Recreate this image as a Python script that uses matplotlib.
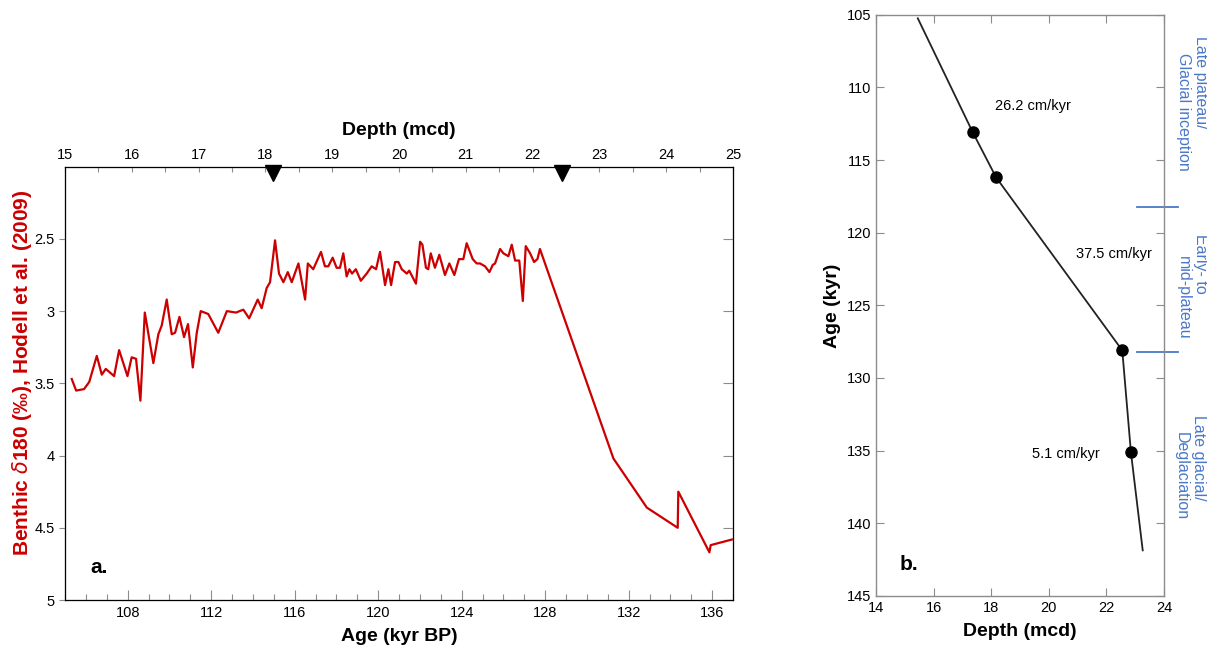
import matplotlib.pyplot as plt
from matplotlib.ticker import MultipleLocator
import matplotlib.transforms as mtransforms

plt.rcParams['font.family'] = ['Liberation Sans', 'DejaVu Sans']

# Benthic d18O record (Hodell et al. 2009) against age
age = [105.32, 105.53, 105.91, 106.16, 106.52, 106.76, 106.95, 107.35, 107.59, 107.99,
       108.19, 108.40, 108.61, 108.82, 109.23, 109.47, 109.63, 109.87, 110.11, 110.27,
       110.48, 110.70, 110.89, 111.12, 111.31, 111.50, 111.86, 112.34, 112.75, 113.19,
       113.54, 113.82, 114.23, 114.42, 114.66, 114.82, 115.06, 115.25, 115.46, 115.67,
       115.86, 116.18, 116.50, 116.63, 116.89, 117.26, 117.45, 117.61, 117.82, 118.01,
       118.17, 118.33, 118.49, 118.62, 118.75, 118.93, 119.17, 119.45, 119.69, 119.90,
       120.09, 120.33, 120.49, 120.62, 120.81, 120.97, 121.13, 121.37, 121.49, 121.81,
       122.01, 122.12, 122.29, 122.40, 122.52, 122.72, 122.93, 123.20, 123.41, 123.65,
       123.87, 124.08, 124.24, 124.53, 124.72, 124.88, 125.12, 125.33, 125.49, 125.60,
       125.84, 126.00, 126.24, 126.40, 126.56, 126.76, 126.93, 127.07, 127.28, 127.47,
       127.63, 127.75, 131.27, 132.87, 134.35, 134.38, 135.87, 135.93, 136.98]
d18o = [3.47, 3.55, 3.54, 3.49, 3.31, 3.44, 3.40, 3.45, 3.27, 3.45,
        3.32, 3.33, 3.62, 3.01, 3.36, 3.16, 3.10, 2.92, 3.16, 3.15,
        3.04, 3.18, 3.09, 3.39, 3.15, 3.00, 3.02, 3.15, 3.00, 3.01,
        2.99, 3.05, 2.92, 2.98, 2.84, 2.80, 2.51, 2.74, 2.80, 2.73,
        2.80, 2.67, 2.92, 2.67, 2.71, 2.59, 2.69, 2.69, 2.63, 2.70,
        2.70, 2.60, 2.76, 2.71, 2.74, 2.71, 2.79, 2.74, 2.69, 2.71,
        2.59, 2.82, 2.71, 2.82, 2.66, 2.66, 2.71, 2.74, 2.72, 2.81,
        2.52, 2.54, 2.70, 2.71, 2.60, 2.70, 2.61, 2.75, 2.67, 2.75,
        2.64, 2.64, 2.53, 2.64, 2.67, 2.67, 2.69, 2.73, 2.68, 2.67,
        2.57, 2.60, 2.62, 2.54, 2.65, 2.65, 2.93, 2.55, 2.60, 2.66,
        2.64, 2.57, 4.02, 4.36, 4.50, 4.25, 4.67, 4.62, 4.58]

# tie points marked on the depth axis
tri_depth = [18.12, 22.44]

# age model (depth vs age)
model_depth = [15.45, 17.36, 18.17, 22.55, 22.85, 23.26]
model_age = [105.25, 113.1, 116.2, 128.1, 135.1, 141.86]
tie_depth = [17.36, 18.17, 22.55, 22.85]
tie_age = [113.1, 116.2, 128.1, 135.1]
rate_labels = ['26.2 cm/kyr', '37.5 cm/kyr', '5.1 cm/kyr']
rate_pos = [(19.45, 111.3), (22.26, 121.5), (20.6, 135.2)]

# climate phase boundaries and names (one entry per text line)
phase_bounds = [118.2, 128.2]
phase_lines = ['Late plateau/', 'Glacial inception', 'Early- to', 'mid-plateau',
               'Late glacial/', 'Deglaciation']
phase_line_x = [25.28, 24.66, 25.28, 24.66, 25.21, 24.59]
phase_line_y = [109.63, 111.70, 122.16, 124.50, 135.51, 136.75]

red = '#cc0000'
blue = '#4a78c8'
spine_c = '#8c8c8c'
fs = 10.5

fig = plt.figure(figsize=(12.07, 6.5), dpi=100)

# ---- panel a ----
ax = fig.add_axes([0.0539, 0.0769, 0.5534, 0.6667])
ax.plot(age, d18o, color=red, lw=1.6)
ax.set_xlim(105, 137)
ax.set_ylim(5, 2)
ax.set_xticks([108, 112, 116, 120, 124, 128, 132, 136])
ax.xaxis.set_minor_locator(MultipleLocator(1))
ax.set_yticks([2.5, 3, 3.5, 4, 4.5, 5])
ax.set_yticklabels(['2.5', '3', '3.5', '4', '4.5', '5'])
ax.tick_params(axis='x', which='major', direction='in', length=7, width=0.8, colors=spine_c,
               labelcolor='black', labelsize=fs, pad=4)
ax.tick_params(axis='x', which='minor', direction='in', length=4, width=0.8, colors=spine_c)
ax.tick_params(axis='y', which='major', direction='out', length=4, width=0.8, colors=spine_c,
               labelcolor='black', labelsize=fs, left=True, right=False)
for s in ax.spines.values():
    s.set_color(spine_c)
    s.set_linewidth(1.0)
# right side ticks pointing inward
axr = ax.secondary_yaxis('right')
axr.set_yticks([2.5, 3, 3.5, 4, 4.5, 5])
axr.tick_params(direction='in', length=7, width=0.8, colors=spine_c, labelright=False)
axr.spines['right'].set_visible(False)
ax.set_xlabel('Age (kyr BP)', fontsize=14, fontweight='bold', labelpad=6)
fig.text(22 / 1207, 0.426, 'Benthic $\\delta$180 (‰), Hodell et al. (2009)', fontsize=15,
         fontweight='bold', color=red, rotation=90, ha='center', va='center')
ax.text(0.038, 0.062, 'a.', transform=ax.transAxes, fontsize=15, fontweight='bold')

top = ax.twiny()
top.set_xlim(15, 25)
top.set_xticks(range(15, 26))
top.xaxis.set_minor_locator(MultipleLocator(0.5))
top.tick_params(axis='x', which='both', direction='in', length=3.5, width=0.8, colors=spine_c,
                labelcolor='black', labelsize=fs, pad=3)
top.set_xlabel('Depth (mcd)', fontsize=14, fontweight='bold', labelpad=10)
trans = mtransforms.blended_transform_factory(top.transData, top.transAxes)
top.plot(tri_depth, [0.985] * len(tri_depth), 'v', color='black', ms=11, transform=trans,
         clip_on=False)

# ---- panel b ----
bx = fig.add_axes([0.7258, 0.0831, 0.2386, 0.8943])
bx.plot(model_depth, model_age, color='#222222', lw=1.3)
bx.plot(tie_depth, tie_age, 'o', color='black', ms=8)
bx.set_xlim(14, 24)
bx.set_ylim(145, 105)
bx.set_xticks(range(14, 25, 2))
bx.set_yticks(range(105, 146, 5))
bx.tick_params(direction='in', length=6, width=0.8, colors=spine_c, labelcolor='black',
               labelsize=fs, top=True, right=True)
for s in bx.spines.values():
    s.set_color(spine_c)
    s.set_linewidth(1.0)
for lab, (x, y) in zip(rate_labels, rate_pos):
    bx.text(x, y, lab, fontsize=10.5, ha='center', va='center')
bx.set_xlabel('Depth (mcd)', fontsize=14, fontweight='bold', labelpad=6)
bx.set_ylabel('Age (kyr)', fontsize=14, fontweight='bold', labelpad=4)
bx.text(0.08, 0.045, 'b.', transform=bx.transAxes, fontsize=15, fontweight='bold')

for b in phase_bounds:
    bx.plot([23.06, 24.49], [b, b], color=blue, lw=1.3, clip_on=False)
for line, x, y in zip(phase_lines, phase_line_x, phase_line_y):
    bx.text(x, y, line, color=blue, fontsize=11.5, rotation=270, ha='center', va='center')

fig.savefig('out.png', dpi=100)
